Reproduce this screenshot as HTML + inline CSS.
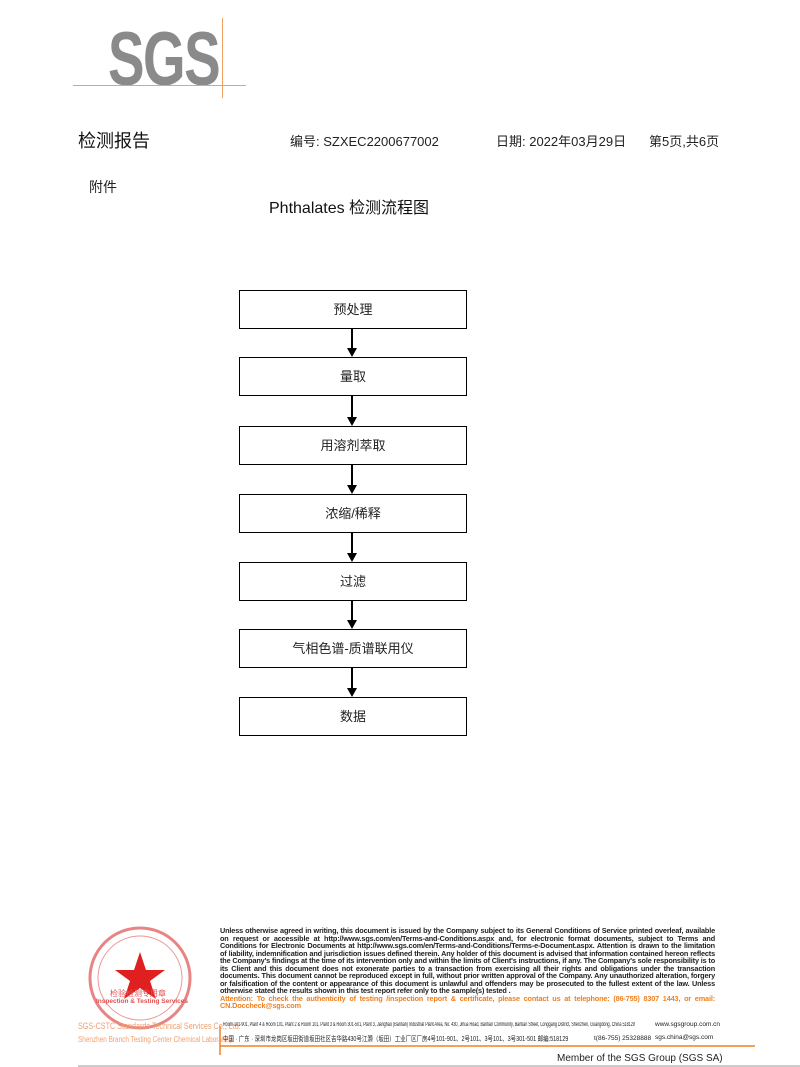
<!DOCTYPE html>
<html><head><meta charset="utf-8"><style>
body{margin:0;width:800px;height:1067px;position:relative;background:#fff;font-family:"Liberation Sans","Noto Sans CJK SC",sans-serif;overflow:hidden}
.a{position:absolute;white-space:nowrap}
.box{position:absolute;left:239px;width:226px;height:37px;border:1px solid #000;text-align:center;line-height:37px;font-size:13px;color:#222}
.ft{position:absolute;left:220px;top:927px;width:495px;font-size:7.3px;line-height:7.5px;color:#222;text-align:justify;font-weight:bold;letter-spacing:-0.15px}
.sc{transform-origin:left top}
</style></head><body>
<div class="a sc" style="left:108px;top:16px;font-size:76px;font-weight:bold;color:#8a8a8a;letter-spacing:-2px;transform:scaleX(0.72)">SGS</div>
<div class="a" style="left:73px;top:85px;width:173px;height:1px;background:#f0a060"></div>
<div class="a" style="left:222px;top:18px;width:1px;height:80px;background:#f0a060"></div>
<div class="a" style="left:78px;top:127px;font-size:18px;color:#111">检测报告</div>
<div class="a" style="left:290px;top:131px;font-size:13px;color:#222">编号: SZXEC2200677002</div>
<div class="a" style="left:496px;top:131px;font-size:13px;color:#222">日期: 2022年03月29日</div>
<div class="a" style="left:649px;top:131px;font-size:13px;color:#222">第5页,共6页</div>
<div class="a" style="left:89px;top:177px;font-size:14px;color:#222">附件</div>
<div class="a" style="left:269px;top:194px;font-size:16px;color:#111">Phthalates 检测流程图</div>

<div class="box" style="top:290px">预处理</div>
<div class="box" style="top:357px">量取</div>
<div class="box" style="top:426px">用溶剂萃取</div>
<div class="box" style="top:494px">浓缩/稀释</div>
<div class="box" style="top:562px">过滤</div>
<div class="box" style="top:629px">气相色谱-质谱联用仪</div>
<div class="box" style="top:697px">数据</div>
<svg class="a" style="left:0;top:0" width="800" height="1067">
<g stroke="#000" stroke-width="2" fill="#000">
<line x1="352" y1="328" x2="352" y2="350"/><polygon points="347,348 357,348 352,357" stroke="none"/>
<line x1="352" y1="396" x2="352" y2="419"/><polygon points="347,417 357,417 352,426" stroke="none"/>
<line x1="352" y1="464" x2="352" y2="487"/><polygon points="347,485 357,485 352,494" stroke="none"/>
<line x1="352" y1="532" x2="352" y2="555"/><polygon points="347,553 357,553 352,562" stroke="none"/>
<line x1="352" y1="600" x2="352" y2="622"/><polygon points="347,620 357,620 352,629" stroke="none"/>
<line x1="352" y1="667" x2="352" y2="690"/><polygon points="347,688 357,688 352,697" stroke="none"/>
</g>
<circle cx="140" cy="978" r="50" fill="none" stroke="#e05050" stroke-width="3" opacity="0.7"/>
<circle cx="140" cy="978" r="42" fill="none" stroke="#e05050" stroke-width="1" opacity="0.6"/>
<polygon points="140,952 146,970 165,970 150,981 156,999 140,988 124,999 130,981 115,970 134,970" fill="#e02020"/>
<line x1="220" y1="1026" x2="220" y2="1055" stroke="#f08020" stroke-width="1.5"/>
<line x1="220" y1="1046" x2="755" y2="1046" stroke="#f08020" stroke-width="1.5"/>
<line x1="78" y1="1066" x2="800" y2="1066" stroke="#999" stroke-width="1"/>
</svg>
<div class="a" style="left:110px;top:988px;font-size:8px;color:#e05050">检验检测专用章</div>
<div class="a" style="left:96px;top:998px;font-size:6.5px;color:#e05050;font-weight:bold">Inspection &amp; Testing Services</div>
<div class="a sc" style="left:78px;top:1021px;font-size:9px;color:#f0a070;transform:scaleX(0.8)">SGS-CSTC Standards Technical Services Co., Ltd.</div>
<div class="a sc" style="left:78px;top:1035px;font-size:8px;color:#f0a070;transform:scaleX(0.8)">Shenzhen Branch Testing Center Chemical Laboratory</div>
<div class="ft">Unless otherwise agreed in writing, this document is issued by the Company subject to its General Conditions of Service printed overleaf, available on request or accessible at http://www.sgs.com/en/Terms-and-Conditions.aspx and, for electronic format documents, subject to Terms and Conditions for Electronic Documents at http://www.sgs.com/en/Terms-and-Conditions/Terms-e-Document.aspx. Attention is drawn to the limitation of liability, indemnification and jurisdiction issues defined therein. Any holder of this document is advised that information contained hereon reflects the Company's findings at the time of its intervention only and within the limits of Client's instructions, if any. The Company's sole responsibility is to its Client and this document does not exonerate parties to a transaction from exercising all their rights and obligations under the transaction documents. This document cannot be reproduced except in full, without prior written approval of the Company. Any unauthorized alteration, forgery or falsification of the content or appearance of this document is unlawful and offenders may be prosecuted to the fullest extent of the law. Unless otherwise stated the results shown in this test report refer only to the sample(s) tested .<br><span style="color:#f08020">Attention: To check the authenticity of testing /inspection report &amp; certificate, please contact us at telephone: (86-755) 8307 1443, or email: CN.Doccheck@sgs.com</span></div>
<div class="a sc" style="left:223px;top:1022px;font-size:6px;color:#222;transform:scaleX(0.62)">Room 101-901, Plant 4 &amp; Room 101, Plant 2 &amp; Room 101, Plant 3 &amp; Room 301-501, Plant 3, Jianghao (Bantian) Industrial Plant Area, No. 430, Jihua Road, Bantian Community, Bantian Street, Longgang District, Shenzhen, Guangdong, China 518129</div>
<div class="a" style="left:655px;top:1021px;font-size:6.5px;color:#222">www.sgsgroup.com.cn</div>
<div class="a sc" style="left:223px;top:1034px;font-size:7px;color:#222;transform:scaleX(0.78)">中国 · 广东 · 深圳市龙岗区坂田街道坂田社区吉华路430号江灏（坂田）工业厂区厂房4号101-901、2号101、3号101、3号301-501 邮编:518129</div>
<div class="a" style="left:594px;top:1035px;font-size:6.5px;color:#222">t(86-755) 25328888</div>
<div class="a" style="left:655px;top:1034px;font-size:6.5px;color:#222">sgs.china@sgs.com</div>
<div class="a" style="left:557px;top:1053px;font-size:10px;color:#222">Member of the SGS Group (SGS SA)</div>
</body></html>
